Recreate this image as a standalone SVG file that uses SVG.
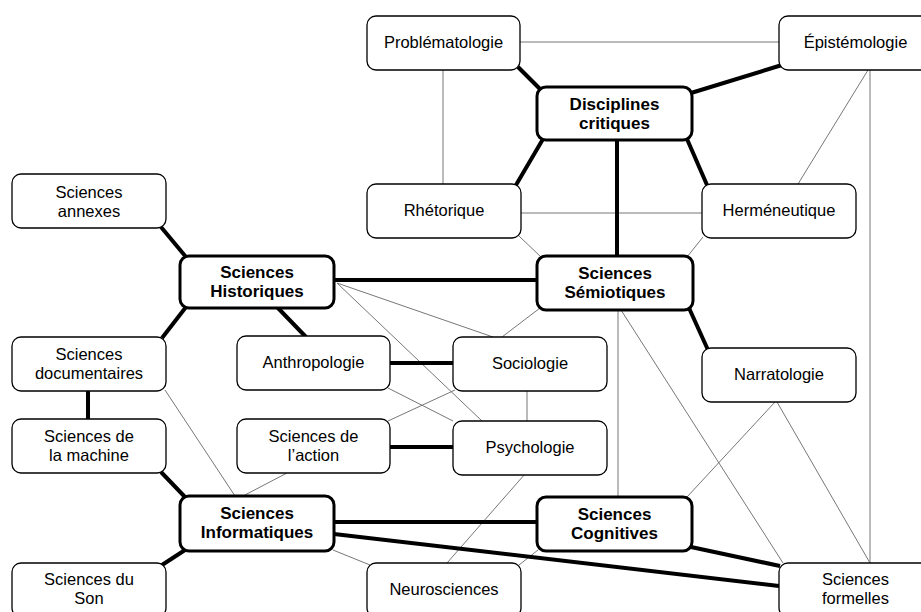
<svg xmlns="http://www.w3.org/2000/svg" width="921" height="612" viewBox="0 0 921 612">
<style>
.n rect{fill:#fff;stroke:#000;stroke-width:1.3}
.b rect{fill:#fff;stroke:#000;stroke-width:3}
text{font-family:"Liberation Sans",Arial,sans-serif;font-size:16.5px;text-anchor:middle;fill:#000}
.b text{font-weight:bold;font-size:17px}
.t line{stroke:#000;stroke-width:4;stroke-linecap:butt}
.f line{stroke:#777;stroke-width:1}
</style>
<rect width="921" height="612" fill="#fff"/>
<g id="connectors">
<g class="f">
<line x1="520" y1="42" x2="779" y2="42"/>
<line x1="443" y1="70" x2="443" y2="184"/>
<line x1="868" y1="70" x2="798" y2="184"/>
<line x1="870" y1="70" x2="870" y2="563"/>
<line x1="521" y1="213" x2="702" y2="213"/>
<line x1="519" y1="236" x2="541" y2="257"/>
<line x1="703" y1="237" x2="687" y2="257"/>
<line x1="337" y1="283" x2="493" y2="337"/>
<line x1="337" y1="283" x2="482" y2="421"/>
<line x1="540" y1="308" x2="502" y2="337"/>
<line x1="388" y1="388" x2="453" y2="421"/>
<line x1="388" y1="421" x2="455" y2="390"/>
<line x1="527" y1="391" x2="527" y2="421"/>
<line x1="618" y1="310" x2="618" y2="497"/>
<line x1="621" y1="310" x2="783" y2="563"/>
<line x1="775" y1="402" x2="687" y2="497"/>
<line x1="777" y1="402" x2="870" y2="563"/>
<line x1="165" y1="390" x2="235" y2="496"/>
<line x1="287" y1="473" x2="243" y2="496"/>
<line x1="525" y1="474" x2="447" y2="563"/>
<line x1="333" y1="550" x2="370" y2="565"/>
<line x1="538" y1="550" x2="519" y2="565"/>
</g>
<g class="t">
<line x1="518" y1="67" x2="541" y2="90"/>
<line x1="691" y1="93" x2="782" y2="65"/>
<line x1="543" y1="139" x2="516" y2="185"/>
<line x1="617" y1="140" x2="617" y2="256"/>
<line x1="687" y1="139" x2="707" y2="185"/>
<line x1="161" y1="227" x2="186" y2="257"/>
<line x1="334" y1="280" x2="537" y2="280"/>
<line x1="186" y1="307" x2="162" y2="338"/>
<line x1="277" y1="307" x2="306" y2="337"/>
<line x1="689" y1="308" x2="708" y2="350"/>
<line x1="390" y1="363" x2="453" y2="363"/>
<line x1="88" y1="391" x2="88" y2="419"/>
<line x1="390" y1="447" x2="453" y2="447"/>
<line x1="161" y1="472" x2="185" y2="497"/>
<line x1="185" y1="550" x2="162" y2="565"/>
<line x1="334" y1="522" x2="537" y2="522"/>
<line x1="334" y1="534" x2="779" y2="586"/>
<line x1="691" y1="547" x2="780" y2="566"/>
</g>
</g>
<g id="problematologie" class="n"><rect x="367" y="16" width="153" height="54" rx="9"/><text x="443.5" y="48">Problématologie</text></g>
<g id="epistemologie" class="n"><rect x="779" y="16" width="153" height="54" rx="9"/><text x="855.5" y="48">Épistémologie</text></g>
<g id="disciplines-critiques" class="b"><rect x="537" y="87" width="155" height="53" rx="9"/><text x="614.5" y="110">Disciplines<tspan x="614.5" dy="19.3">critiques</tspan></text></g>
<g id="rhetorique" class="n"><rect x="367" y="184" width="154" height="54" rx="9"/><text x="444" y="216">Rhétorique</text></g>
<g id="hermeneutique" class="n"><rect x="702" y="184" width="154" height="54" rx="9"/><text x="779" y="216">Herméneutique</text></g>
<g id="sciences-annexes" class="n"><rect x="12" y="174" width="154" height="54" rx="9"/><text x="89" y="198">Sciences<tspan x="89" dy="18.6">annexes</tspan></text></g>
<g id="sciences-historiques" class="b"><rect x="180" y="256" width="154" height="52" rx="9"/><text x="257" y="278">Sciences<tspan x="257" dy="19.3">Historiques</tspan></text></g>
<g id="sciences-semiotiques" class="b"><rect x="537" y="256" width="156" height="54" rx="9"/><text x="615" y="279">Sciences<tspan x="615" dy="19.3">Sémiotiques</tspan></text></g>
<g id="narratologie" class="n"><rect x="702" y="348" width="154" height="54" rx="9"/><text x="779" y="380">Narratologie</text></g>
<g id="sciences-documentaires" class="n"><rect x="12" y="337" width="154" height="54" rx="9"/><text x="89" y="360">Sciences<tspan x="89" dy="18.6">documentaires</tspan></text></g>
<g id="anthropologie" class="n"><rect x="237" y="336" width="153" height="54" rx="9"/><text x="313.5" y="368">Anthropologie</text></g>
<g id="sociologie" class="n"><rect x="453" y="337" width="154" height="54" rx="9"/><text x="530" y="369">Sociologie</text></g>
<g id="sciences-machine" class="n"><rect x="12" y="419" width="154" height="54" rx="9"/><text x="89" y="442">Sciences de<tspan x="89" dy="18.6">la machine</tspan></text></g>
<g id="sciences-action" class="n"><rect x="237" y="419" width="153" height="54" rx="9"/><text x="313.5" y="442">Sciences de<tspan x="313.5" dy="18.6">l’action</tspan></text></g>
<g id="psychologie" class="n"><rect x="453" y="421" width="154" height="54" rx="9"/><text x="530" y="453">Psychologie</text></g>
<g id="sciences-informatiques" class="b"><rect x="180" y="496" width="154" height="55" rx="9"/><text x="257" y="519">Sciences<tspan x="257" dy="19.3">Informatiques</tspan></text></g>
<g id="sciences-cognitives" class="b"><rect x="537" y="497" width="155" height="54" rx="9"/><text x="614.5" y="520">Sciences<tspan x="614.5" dy="19.3">Cognitives</tspan></text></g>
<g id="sciences-son" class="n"><rect x="12" y="563" width="154" height="54" rx="9"/><text x="89" y="585">Sciences du<tspan x="89" dy="18.6">Son</tspan></text></g>
<g id="neurosciences" class="n"><rect x="367" y="563" width="154" height="54" rx="9"/><text x="444" y="595">Neurosciences</text></g>
<g id="sciences-formelles" class="n"><rect x="779" y="563" width="153" height="54" rx="9"/><text x="855.5" y="585">Sciences<tspan x="855.5" dy="18.6">formelles</tspan></text></g>
</svg>
